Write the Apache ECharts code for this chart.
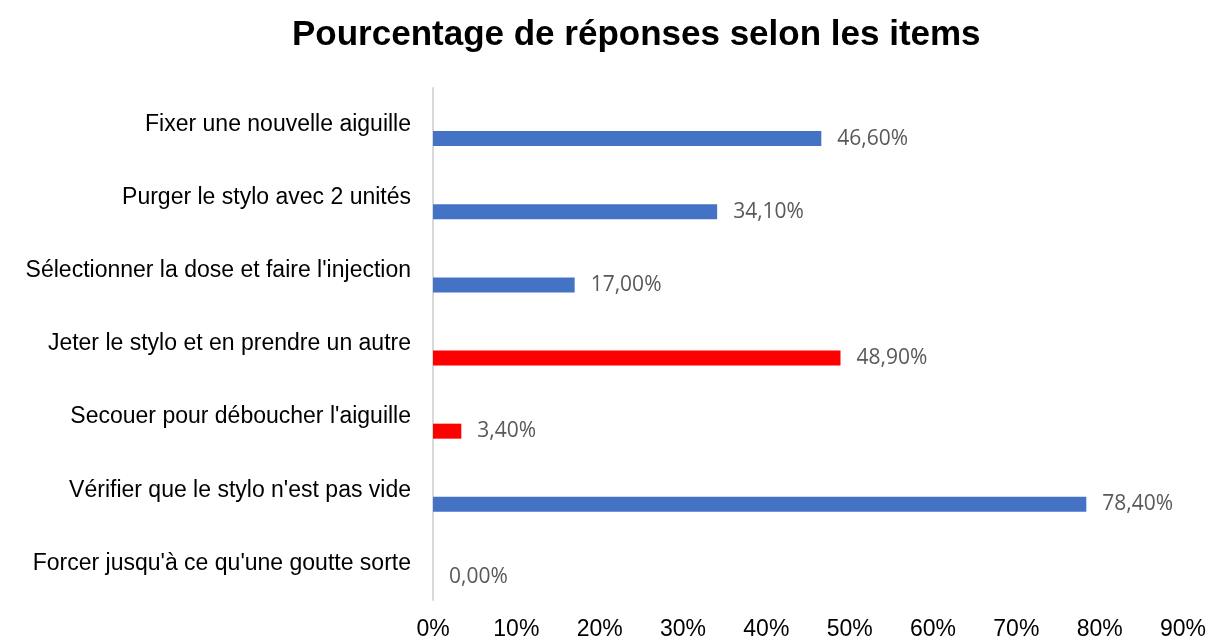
<!DOCTYPE html>
<html>
<head>
<meta charset="utf-8">
<title>Pourcentage de réponses selon les items</title>
<script src="https://cdn.jsdelivr.net/npm/echarts@6/dist/echarts.min.js"></script>
<style>
    html, body { margin: 0; padding: 0; background: #fff; }
    #main { width: 1209px; height: 641px; }
</style>
</head>
<body>
<div id="main"></div>
<script>
// données du graphique
var items = [
    "Fixer une nouvelle aiguille",
    "Purger le stylo avec 2 unités",
    "Sélectionner la dose et faire l'injection",
    "Jeter le stylo et en prendre un autre",
    "Secouer pour déboucher l'aiguille",
    "Vérifier que le stylo n'est pas vide",
    "Forcer jusqu'à ce qu'une goutte sorte"
];
var pourcentages = [46.6, 34.1, 17.0, 48.9, 3.4, 78.4, 0.0];
var ticks = [0, 10, 20, 30, 40, 50, 60, 70, 80, 90];

// items mis en rouge
var rouges = [3, 4];

var myChart = echarts.init(document.getElementById('main'));

var option = {
    animation: false,
    title: {
        text: 'Pourcentage de réponses selon les items',
        left: 287,
        top: 13,
        textStyle: {
            fontFamily: 'Liberation Sans',
            fontSize: 35,
            fontWeight: 'bold',
            color: '#000'
        }
    },
    grid: {
        left: 433,
        right: 26,
        top: 88,
        bottom: 38,
        containLabel: false
    },
    xAxis: {
        type: 'value',
        min: ticks[0],
        max: ticks[ticks.length - 1],
        interval: 10,
        splitLine: { show: false },
        axisLine: { show: false },
        axisTick: { show: false },
        axisLabel: {
            formatter: '{value}%',
            margin: 18,
            fontFamily: 'Liberation Sans',
            fontSize: 23,
            color: '#000'
        }
    },
    yAxis: {
        type: 'category',
        inverse: true,
        data: items,
        axisLine: { show: true, lineStyle: { color: '#d9d9d9', width: 2 } },
        axisTick: { show: false },
        axisLabel: {
            margin: 22,
            padding: [0, 0, 5, 0],
            fontFamily: 'Liberation Sans',
            fontSize: 23,
            color: '#000'
        }
    },
    series: [
        {
            // série vide pour décaler les barres comme dans Excel
            type: 'bar',
            data: items.map(function () { return '-'; }),
            barWidth: 15,
            barGap: '87%',
            silent: true
        },
        {
            type: 'bar',
            data: pourcentages,
            barWidth: 15,
            barGap: '87%',
            itemStyle: {
                color: function (p) {
                    return rouges.indexOf(p.dataIndex) >= 0 ? '#ff0000' : '#4472c4';
                }
            },
            label: {
                show: true,
                position: 'right',
                distance: 16,
                fontFamily: 'Open Sans',
                fontSize: 21,
                color: '#595959',
                formatter: function (p) {
                    return p.value.toFixed(2).replace('.', ',') + '%';
                }
            }
        }
    ]
};

myChart.setOption(option);
</script>
</body>
</html>
